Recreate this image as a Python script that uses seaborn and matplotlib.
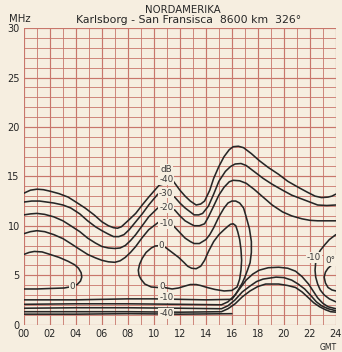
import matplotlib
matplotlib.use("Agg")
import matplotlib.pyplot as plt
import seaborn as sns
import pandas as pd

# ---- contour lines of signal level (dB) over time of day (GMT) and frequency (MHz)
upper_m40_h   = [0, 0.5, 1, 1.5, 2, 2.7, 3.4, 4.0, 4.7, 5.4, 6, 6.5, 6.9, 7.2, 7.5, 8.0, 8.6, 9.1, 9.6, 10.0, 10.4, 11.5, 12.0, 12.4, 12.8, 13.25, 13.6, 13.9, 14.3, 14.6, 15.0, 15.4, 15.8, 16.1, 16.5, 16.9, 17.5, 18.1, 18.8, 19.6, 20.3, 21.1, 21.8, 22.4, 22.9, 23.4, 23.7, 24]
upper_m40_mhz = [13.3, 13.6, 13.7, 13.65, 13.5, 13.25, 12.9, 12.4, 11.8, 11.1, 10.4, 10.0, 9.8, 9.75, 9.9, 10.5, 11.25, 12.1, 12.9, 13.5, 14.1, 14.5, 13.6, 13.0, 12.5, 12.1, 12.2, 12.5, 13.6, 14.8, 16.0, 17.0, 17.7, 18.0, 18.05, 17.9, 17.3, 16.6, 15.9, 15.2, 14.5, 13.9, 13.4, 13.0, 12.85, 12.9, 13.0, 13.2]

upper_m30_h   = [0, 0.6, 1.2, 2.3, 3.0, 3.6, 4.3, 4.9, 5.5, 6, 6.5, 6.9, 7.3, 7.7, 8.1, 8.6, 9.1, 9.6, 10.3, 11.6, 12.0, 12.4, 12.8, 13.1, 13.45, 13.75, 14.2, 14.6, 15.0, 15.5, 15.9, 16.25, 16.7, 17.1, 17.7, 18.4, 19.1, 19.9, 20.6, 21.4, 22.0, 22.6, 23.3, 24]
upper_m30_mhz = [12.4, 12.5, 12.5, 12.3, 12.1, 11.8, 11.2, 10.5, 9.9, 9.5, 9.15, 8.9, 8.9, 9.1, 9.6, 10.4, 11.2, 12.1, 13.2, 12.9, 12.3, 11.8, 11.4, 11.1, 11.1, 11.25, 12.0, 13.2, 14.5, 15.5, 16.0, 16.25, 16.3, 16.1, 15.5, 14.8, 14.2, 13.6, 13.1, 12.7, 12.4, 12.1, 12.05, 12.1]

upper_m20_h   = [0, 0.5, 1, 1.6, 2.3, 3.0, 3.6, 4.3, 4.9, 5.5, 6, 6.5, 7, 7.4, 7.8, 8.2, 8.6, 9.1, 9.6, 10.3, 11.6, 12.0, 12.4, 12.8, 13.1, 13.5, 13.9, 14.2, 14.6, 15.0, 15.4, 15.8, 16.1, 16.6, 17.1, 17.7, 18.4, 19.1, 19.9, 20.6, 21.4, 22.0, 22.6, 23.3, 24]
upper_m20_mhz = [11.1, 11.2, 11.25, 11.15, 10.9, 10.5, 10.0, 9.4, 8.75, 8.25, 7.9, 7.75, 7.7, 7.75, 8.0, 8.5, 9.1, 10.0, 10.9, 11.8, 11.6, 11.0, 10.5, 10.2, 10.0, 10.0, 10.2, 10.9, 12.0, 13.1, 13.9, 14.45, 14.6, 14.55, 14.3, 13.7, 12.9, 12.1, 11.4, 11.0, 10.7, 10.55, 10.5, 10.5, 10.5]

m10_h   = [0, 0.5, 1, 1.6, 2.3, 3.0, 3.6, 4.3, 4.9, 5.5, 6, 6.5, 7, 7.4, 7.8, 8.2, 8.6, 9.1, 9.6, 10.4, 11.5, 12.0, 12.4, 12.8, 13.1, 13.5, 14, 14.3, 14.6, 15.0, 15.4, 15.7, 16, 16.3, 16.6, 16.9, 17.1, 17.35, 17.5, 17.5, 17.4, 17.2, 17.0, 16.8, 16.6, 16.4, 16.2, 16.0, 14, 12, 10, 8, 6, 4, 2, 0]
m10_mhz = [9.2, 9.4, 9.5, 9.4, 9.1, 8.7, 8.2, 7.6, 7.1, 6.75, 6.5, 6.35, 6.3, 6.45, 6.8, 7.3, 7.9, 8.8, 9.6, 10.4, 10.0, 9.3, 8.75, 8.4, 8.2, 8.2, 8.6, 9.1, 9.8, 10.9, 11.8, 12.3, 12.5, 12.5, 12.3, 11.8, 10.9, 9.7, 8.4, 7.3, 6.25, 5.5, 4.8, 4.2, 3.75, 3.3, 2.9, 2.55, 2.5, 2.55, 2.6, 2.6, 2.55, 2.5, 2.5, 2.5]

zero_left_h   = [0, 0.4, 0.8, 1.4, 2, 2.7, 3.4, 3.9, 4.2, 4.4, 4.45, 4.35, 4.1, 3.7, 3.1, 2, 1, 0]
zero_left_mhz = [7.1, 7.3, 7.4, 7.35, 7.1, 6.8, 6.4, 6.05, 5.7, 5.25, 4.8, 4.4, 4.05, 3.85, 3.7, 3.65, 3.6, 3.6]

zero_mid_h   = [10.6, 10.3, 9.8, 9.3, 9.0, 8.85, 8.8, 8.9, 9.1, 9.4, 9.8, 10.1, 10.5, 10.9, 11.4, 11.9, 12.3, 12.6, 12.9, 13.25, 13.6, 13.9, 14.2, 14.6, 15.0, 15.4, 15.7, 15.9, 16.1, 16.3, 16.45, 16.6, 16.7, 16.75, 16.7, 16.6, 16.4, 16.0, 15.4, 14.7, 14.1, 13.6, 13.25, 12.8, 12.4, 11.9, 11.4, 10.6]
zero_mid_mhz = [3.8, 3.75, 3.8, 4.1, 4.6, 5.0, 5.5, 6.1, 6.7, 7.3, 7.75, 7.95, 8.0, 7.8, 7.3, 6.8, 6.3, 5.9, 5.7, 5.65, 5.9, 6.5, 7.4, 8.4, 9.1, 9.6, 9.95, 10.15, 10.2, 10.0, 9.4, 8.6, 7.6, 6.5, 5.5, 4.6, 3.8, 3.45, 3.4, 3.55, 3.75, 3.95, 4.05, 4.05, 3.9, 3.7, 3.6, 3.8]

low_m20_h   = [0, 4, 8, 12, 15.2, 15.7, 16.25, 16.7, 17.1, 17.6, 18.1, 18.8, 19.6, 20.3, 20.9, 21.4, 21.9, 22.3, 22.6, 23.0, 23.4, 24]
low_m20_mhz = [2.05, 2.1, 2.1, 2.05, 2.0, 2.3, 3.0, 3.8, 4.5, 5.1, 5.5, 5.75, 5.8, 5.7, 5.4, 4.85, 4.1, 3.3, 2.7, 2.15, 1.8, 1.6]

low_m30_h   = [0, 4, 8, 12, 15.2, 15.7, 16.25, 16.8, 17.4, 17.9, 18.4, 19.4, 20.0, 20.6, 21.1, 21.6, 22.1, 22.5, 22.9, 23.4, 24]
low_m30_mhz = [1.65, 1.7, 1.7, 1.65, 1.6, 1.9, 2.5, 3.3, 3.9, 4.35, 4.6, 4.8, 4.75, 4.5, 4.1, 3.6, 2.9, 2.3, 1.9, 1.6, 1.4]

low_m40_h   = [0, 4, 8, 12, 15.2, 15.7, 16.25, 16.8, 17.4, 18.0, 18.6, 19.6, 20.3, 20.9, 21.4, 21.9, 22.3, 22.75, 23.2, 23.6, 24]
low_m40_mhz = [1.3, 1.3, 1.3, 1.25, 1.3, 1.6, 2.1, 2.8, 3.4, 3.85, 4.1, 4.1, 3.95, 3.75, 3.3, 2.7, 2.2, 1.8, 1.5, 1.3, 1.25]

base_h   = [0, 4, 8, 12, 16]
base_mhz = [1.05, 1.05, 1.1, 1.05, 1.1]

right_m10_h   = [24, 23.5, 23.1, 22.8, 22.6, 22.45, 22.4, 22.45, 22.6, 22.8, 23.1, 23.5, 24]
right_m10_mhz = [9.1, 8.6, 8.0, 7.5, 7.0, 6.3, 5.5, 4.8, 4.1, 3.5, 3.0, 2.6, 2.3]

right_zero_h   = [24, 23.7, 23.4, 23.2, 23.1, 23.2, 23.4, 23.7, 24]
right_zero_mhz = [6.25, 6.05, 5.7, 5.3, 4.8, 4.2, 3.75, 3.5, 3.4]

curves = {
    "upper -40": (upper_m40_h, upper_m40_mhz),
    "upper -30": (upper_m30_h, upper_m30_mhz),
    "upper -20": (upper_m20_h, upper_m20_mhz),
    "-10": (m10_h, m10_mhz),
    "0 left": (zero_left_h, zero_left_mhz),
    "0 mid": (zero_mid_h, zero_mid_mhz),
    "lower -20": (low_m20_h, low_m20_mhz),
    "lower -30": (low_m30_h, low_m30_mhz),
    "lower -40": (low_m40_h, low_m40_mhz),
    "base": (base_h, base_mhz),
    "right -10": (right_m10_h, right_m10_mhz),
    "right 0": (right_zero_h, right_zero_mhz),
}

# in-line level labels: (text, hour, MHz)
level_labels = [
    ("dB", 10.95, 15.7), ("-40", 10.95, 14.7), ("-30", 10.95, 13.3), ("-20", 10.95, 11.8),
    ("-10", 10.95, 10.2), ("0", 10.55, 8.0), ("0", 3.7, 3.85), ("0", 10.6, 3.85),
    ("-10", 10.95, 2.75), ("-40", 10.95, 1.1), ("-10", 22.3, 6.8), ("0\u00b0", 23.55, 6.5),
]

x_ticks = [0, 2, 4, 6, 8, 10, 12, 14, 16, 18, 20, 22, 24]
x_tick_labels = ["00", "02", "04", "06", "08", "10", "12", "14", "16", "18", "20", "22", "24"]
y_ticks = [0, 5, 10, 15, 20, 25, 30]

paper = "#f6eee0"
grid_red = "#c8766b"
ink = "#262626"

sns.set_theme(style="white")
plt.rcParams["font.family"] = ["DejaVu Sans"]

fig = plt.figure(figsize=(3.42, 3.52), dpi=100, facecolor=paper)
ax = fig.add_axes([0.070, 0.078, 0.912, 0.842])
ax.set_facecolor(paper)

# millimetre-paper style grid: 1 h by 1 MHz cells
for h in range(25):
    ax.axvline(h, color=grid_red, lw=0.85 if h % 2 == 0 else 0.6, zorder=1)
for f in range(31):
    ax.axhline(f, color=grid_red, lw=0.85 if f % 5 == 0 else 0.6, zorder=1)

for name, (hours, mhz) in curves.items():
    df = pd.DataFrame({"GMT": hours, "MHz": mhz})
    sns.lineplot(data=df, x="GMT", y="MHz", sort=False, estimator=None,
                 color=ink, lw=1.15, ax=ax, zorder=3)

for text, h, f in level_labels:
    ax.text(h, f, text, ha="center", va="center", fontsize=6.3, color="#3a3a3a",
            zorder=4, bbox=dict(boxstyle="square,pad=0.08", fc=paper, ec="none"))

ax.set_xlim(0, 24)
ax.set_ylim(0, 30)
ax.set_xticks(x_ticks)
ax.set_xticklabels(x_tick_labels)
ax.set_yticks(y_ticks)
ax.tick_params(axis="both", length=0, labelsize=7, colors=ink, pad=3)
ax.set_xlabel("")
ax.set_ylabel("")
for s in ax.spines.values():
    s.set_visible(False)

fig.text(0.535, 0.972, "NORDAMERIKA", ha="center", va="center", fontsize=7.3, color=ink)
fig.text(0.55, 0.942, "Karlsborg - San Fransisca  8600 km  326\u00b0", ha="center",
         va="center", fontsize=7.8, color=ink)
fig.text(0.025, 0.945, "MHz", ha="left", va="center", fontsize=7.3, color=ink)
fig.text(0.985, 0.012, "GMT", ha="right", va="center", fontsize=5.5, color=ink)

fig.savefig("out.png", dpi=100, facecolor=paper)
